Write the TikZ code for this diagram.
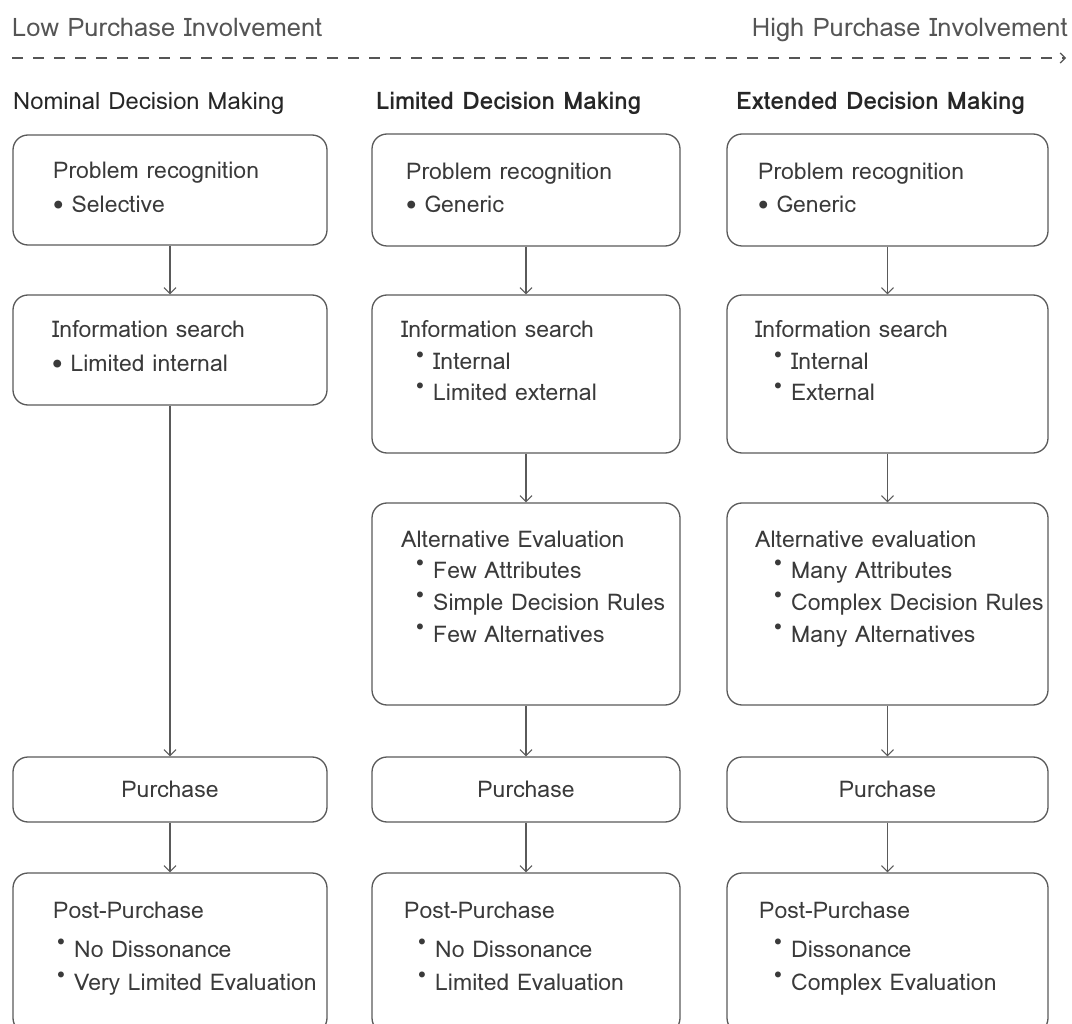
\documentclass[tikz,border=0pt]{standalone}
\usepackage{fontspec}
\setmainfont{Loma}
\usetikzlibrary{arrows.meta}
\definecolor{linec}{HTML}{5A5A5A}
\definecolor{textc}{HTML}{3A3A3A}
\definecolor{headc}{HTML}{555555}
\newcommand\upbul{\raisebox{0.42em}{\scalebox{0.75}{•}}}
\newcommand\bodysize{\fontsize{23}{27}\selectfont}
\newcommand\titlesize{\fontsize{23.8}{28}\selectfont}
\begin{document}
\begin{tikzpicture}[x=1pt,y=-1pt,
  box/.style={draw=linec, line width=1.3pt, rounded corners=15pt, inner sep=0pt},
  txt/.style={anchor=base west, inner sep=0pt, text=textc, font=\bodysize},
  ctxt/.style={anchor=base, inner sep=0pt, text=textc, font=\bodysize},
  head/.style={inner sep=0pt, text=headc, font=\fontsize{25.5}{29}\selectfont},
  title/.style={anchor=base west, inner sep=0pt, text=black!85, font=\titlesize},
  btitle/.style={title, font=\fontsize{24.2}{28}\selectfont\bfseries},
  flow/.style={draw=linec, line width=1.1pt, -{Straight Barb[length=6pt,width=12pt,line width=1.1pt]}}]
\useasboundingbox[fill=white] (0,0) rectangle (1072,1024);

% involvement scale
\node[head, anchor=base west] (low) at (12,37) {Low Purchase Involvement};
\node[head, anchor=base east] (high) at (1068,37) {High Purchase Involvement};
\coordinate (sa) at (12,58);
\coordinate (sb) at (1066,58);
\draw[draw=headc, line width=1.2pt, dash pattern=on 11pt off 10pt,
      -{Straight Barb[length=5pt,width=10pt,line width=1.2pt]}] (sa) -- (sb);

% column titles
\node[title] (t1) at (13,110) {Nominal Decision Making};
\node[btitle] (t2) at (376,110) {Limited Decision Making};
\node[btitle] (t3) at (736,110) {Extended Decision Making};

% ---------- nominal ----------
\node[box, minimum width=314pt, minimum height=110pt] (a1) at (170,190) {};
\node[box, minimum width=314pt, minimum height=110pt] (a2) at (170,350) {};
\node[box, minimum width=314pt, minimum height=65pt] (a4) at (170,789.5) {};
\node[box, minimum width=314pt, minimum height=160pt] (a5) at (170,953) {};
\node[txt] (a1t) at (53,179) {Problem recognition};
\node[txt] (a1i) at (53,213) {• Selective};
\node[txt] (a2t) at (52,338) {Information search};
\node[txt] (a2i) at (52,372) {• Limited internal};
\node[ctxt] (a4t) at (170,797) {Purchase};
\node[txt] (a5t) at (53,918) {Post-Purchase};
\node[txt] (a5i) at (57,957) {\upbul\hspace{9pt}No Dissonance};
\node[txt] (a5j) at (57,990) {\upbul\hspace{9pt}Very Limited Evaluation};
\draw[flow] (a1.south) -- (a2.north);
\draw[flow] (a2.south) -- (a4.north);
\draw[flow] (a4.south) -- (a5.north);

% ---------- limited ----------
\node[box, minimum width=308pt, minimum height=112pt] (b1) at (526,190) {};
\node[box, minimum width=308pt, minimum height=158pt] (b2) at (526,374) {};
\node[box, minimum width=308pt, minimum height=202pt] (b3) at (526,604) {};
\node[box, minimum width=308pt, minimum height=65pt] (b4) at (526,789.5) {};
\node[box, minimum width=308pt, minimum height=160pt] (b5) at (526,953) {};
\node[txt] (b1t) at (406,180) {Problem recognition};
\node[txt] (b1i) at (406,213) {• Generic};
\node[txt] (b2t) at (401,338) {Information search};
\node[txt] (b2i) at (416,370) {\upbul\hspace{9pt}Internal};
\node[txt] (b2j) at (416,401) {\upbul\hspace{9pt}Limited external};
\node[txt] (b3t) at (401,547) {Alternative Evaluation};
\node[txt] (b3i) at (416,578) {\upbul\hspace{9pt}Few Attributes};
\node[txt] (b3j) at (416,610) {\upbul\hspace{9pt}Simple Decision Rules};
\node[txt] (b3k) at (416,642) {\upbul\hspace{9pt}Few Alternatives};
\node[ctxt] (b4t) at (526,797) {Purchase};
\node[txt] (b5t) at (404,918) {Post-Purchase};
\node[txt] (b5i) at (418,957) {\upbul\hspace{9pt}No Dissonance};
\node[txt] (b5j) at (418,990) {\upbul\hspace{9pt}Limited Evaluation};
\draw[flow] (b1.south) -- (b2.north);
\draw[flow] (b2.south) -- (b3.north);
\draw[flow] (b3.south) -- (b4.north);
\draw[flow] (b4.south) -- (b5.north);

% ---------- extended ----------
\node[box, minimum width=321pt, minimum height=112pt] (c1) at (887.5,190) {};
\node[box, minimum width=321pt, minimum height=158pt] (c2) at (887.5,374) {};
\node[box, minimum width=321pt, minimum height=202pt] (c3) at (887.5,604) {};
\node[box, minimum width=321pt, minimum height=65pt] (c4) at (887.5,789.5) {};
\node[box, minimum width=321pt, minimum height=160pt] (c5) at (887.5,953) {};
\node[txt] (c1t) at (758,180) {Problem recognition};
\node[txt] (c1i) at (758,213) {• Generic};
\node[txt] (c2t) at (755,338) {Information search};
\node[txt] (c2i) at (774,370) {\upbul\hspace{9pt}Internal};
\node[txt] (c2j) at (774,401) {\upbul\hspace{9pt}External};
\node[txt] (c3t) at (755,547) {Alternative evaluation};
\node[txt] (c3i) at (774,578) {\upbul\hspace{9pt}Many Attributes};
\node[txt] (c3j) at (774,610) {\upbul\hspace{9pt}Complex Decision Rules};
\node[txt] (c3k) at (774,642) {\upbul\hspace{9pt}Many Alternatives};
\node[ctxt] (c4t) at (887.5,797) {Purchase};
\node[txt] (c5t) at (759,918) {Post-Purchase};
\node[txt] (c5i) at (774,957) {\upbul\hspace{9pt}Dissonance};
\node[txt] (c5j) at (774,990) {\upbul\hspace{9pt}Complex Evaluation};
\draw[flow] (c1.south) -- (c2.north);
\draw[flow] (c2.south) -- (c3.north);
\draw[flow] (c3.south) -- (c4.north);
\draw[flow] (c4.south) -- (c5.north);
\end{tikzpicture}
\end{document}
